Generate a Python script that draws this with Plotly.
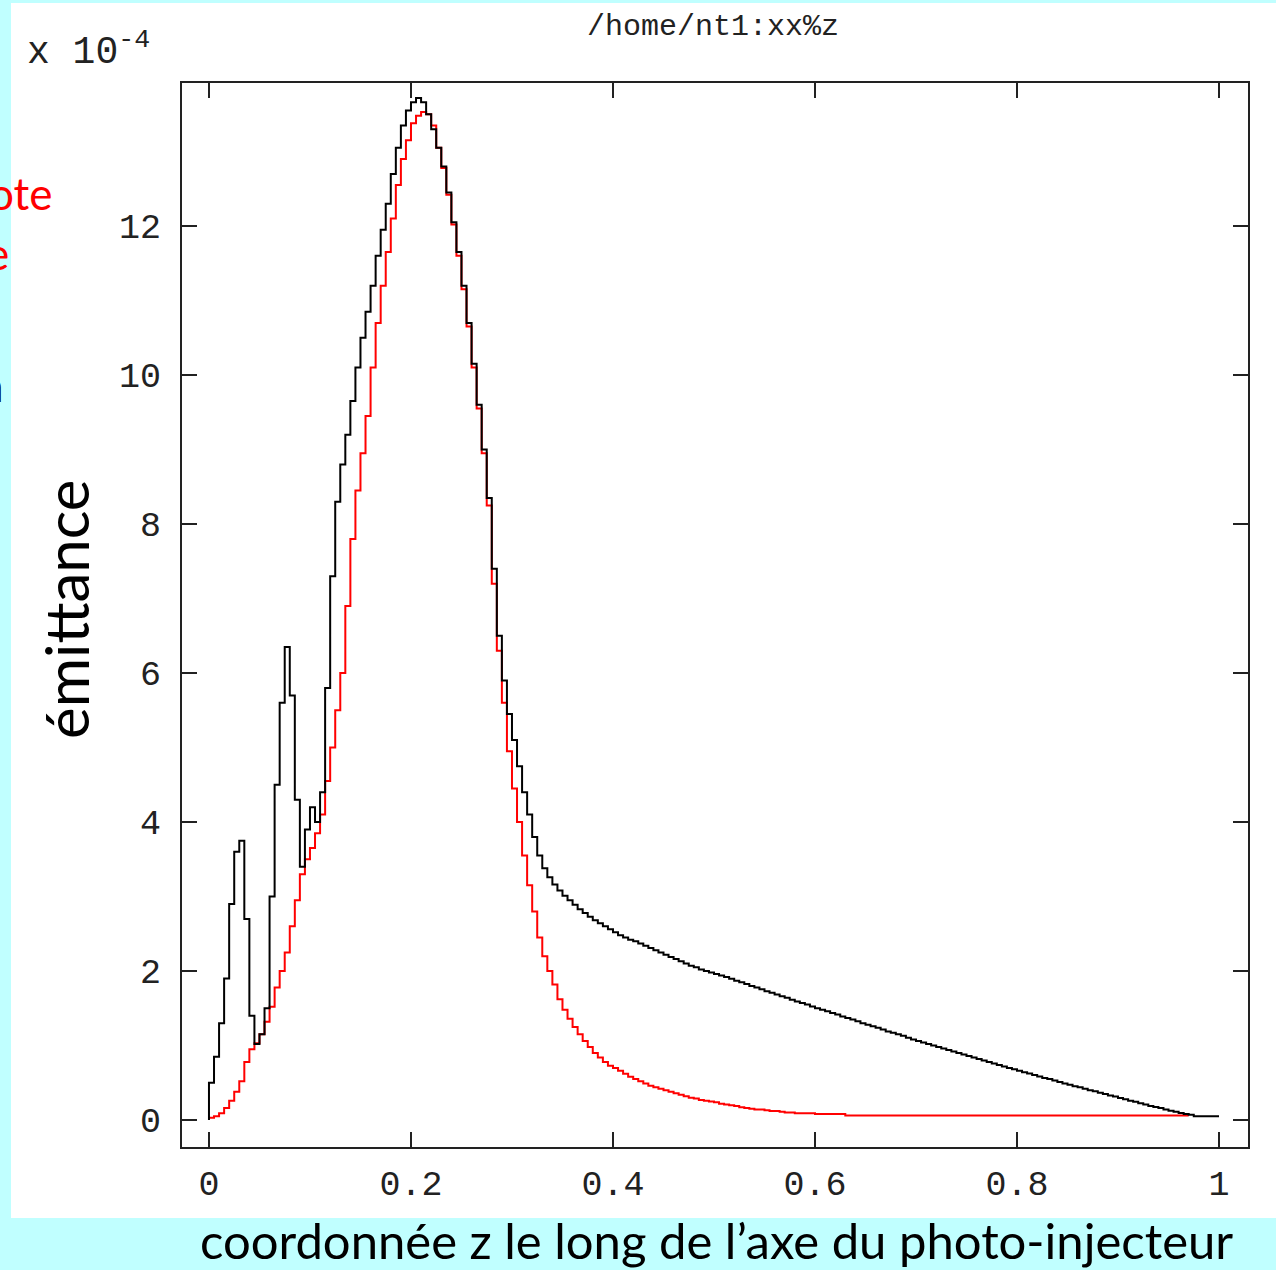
import numpy as np
import plotly.graph_objects as go

# histogram bin width along z (normalised)
bin_width = 0.005

# black curve: one value per bin, z from 0 to 1 (units of 1e-4)
emit_black = [
    0.5, 0.85, 1.3, 1.9, 2.9, 3.6, 3.75, 2.7, 1.4, 1.02,
    1.15, 1.5, 3.0, 4.5, 5.6, 6.35, 5.7, 4.3, 3.4, 3.9,
    4.2, 4.0, 4.4, 5.8, 7.3, 8.3, 8.8, 9.2, 9.65, 10.1,
    10.5, 10.85, 11.2, 11.6, 11.95, 12.3, 12.7, 13.05, 13.35, 13.55,
    13.66, 13.72, 13.66, 13.5, 13.3, 13.05, 12.8, 12.45, 12.05, 11.65,
    11.2, 10.7, 10.15, 9.6, 9.0, 8.35, 7.4, 6.5, 5.9, 5.45,
    5.1, 4.75, 4.4, 4.1, 3.8, 3.55, 3.38, 3.26, 3.16, 3.08,
    3.01, 2.95, 2.89, 2.83, 2.78, 2.73, 2.68, 2.64, 2.60, 2.56,
    2.52, 2.48, 2.45, 2.42, 2.40, 2.37, 2.34, 2.31, 2.28, 2.25,
    2.22, 2.19, 2.16, 2.13, 2.10, 2.07, 2.05, 2.02, 2.0, 1.98,
    1.96, 1.94, 1.92, 1.895, 1.87, 1.85, 1.825, 1.80, 1.78, 1.755,
    1.73, 1.71, 1.685, 1.66, 1.64, 1.615, 1.59, 1.57, 1.55, 1.525,
    1.50, 1.48, 1.46, 1.435, 1.415, 1.39, 1.37, 1.35, 1.325, 1.30,
    1.28, 1.26, 1.24, 1.215, 1.19, 1.17, 1.15, 1.13, 1.105, 1.08,
    1.06, 1.04, 1.02, 1.0, 0.98, 0.96, 0.94, 0.92, 0.90, 0.88,
    0.86, 0.84, 0.82, 0.80, 0.78, 0.76, 0.74, 0.72, 0.70, 0.68,
    0.66, 0.64, 0.625, 0.605, 0.585, 0.565, 0.55, 0.53, 0.51, 0.49,
    0.475, 0.455, 0.44, 0.42, 0.40, 0.385, 0.365, 0.35, 0.33, 0.315,
    0.295, 0.28, 0.26, 0.245, 0.225, 0.21, 0.19, 0.175, 0.16, 0.14,
    0.125, 0.11, 0.095, 0.08, 0.07, 0.05, 0.05, 0.05, 0.05, 0.05,
]

# red curve: one value per bin, stops near z = 0.97
emit_red = [
    0.03, 0.05, 0.09, 0.16, 0.26, 0.38, 0.52, 0.78, 0.95, 1.03,
    1.15, 1.32, 1.52, 1.78, 2.0, 2.25, 2.6, 2.95, 3.3, 3.5,
    3.65, 3.85, 4.1, 4.55, 5.0, 5.5, 6.0, 6.9, 7.8, 8.45,
    8.95, 9.45, 10.1, 10.7, 11.2, 11.65, 12.1, 12.55, 12.9, 13.15,
    13.38, 13.48, 13.53, 13.5, 13.35, 13.05, 12.78, 12.42, 12.02, 11.6,
    11.15, 10.65, 10.1, 9.55, 8.95, 8.25, 7.2, 6.3, 5.6, 4.95,
    4.45, 4.0, 3.55, 3.15, 2.8, 2.45, 2.2, 2.0, 1.82, 1.62,
    1.48, 1.36, 1.25, 1.15, 1.06, 0.98, 0.9, 0.84, 0.78, 0.73,
    0.70, 0.66, 0.62, 0.58, 0.55, 0.52, 0.49, 0.46, 0.44, 0.42,
    0.40, 0.38, 0.36, 0.34, 0.32, 0.30, 0.29, 0.27, 0.26, 0.25,
    0.24, 0.22, 0.21, 0.20, 0.19, 0.17, 0.16, 0.15, 0.14, 0.14,
    0.13, 0.12, 0.12, 0.11, 0.10, 0.10, 0.09, 0.09, 0.09, 0.09,
    0.08, 0.08, 0.08, 0.08, 0.08, 0.08, 0.06, 0.06, 0.06, 0.06,
    0.06, 0.06, 0.06, 0.06, 0.06, 0.06, 0.06, 0.06, 0.06, 0.06,
    0.06, 0.06, 0.06, 0.06, 0.06, 0.06, 0.06, 0.06, 0.06, 0.06,
    0.06, 0.06, 0.06, 0.06, 0.06, 0.06, 0.06, 0.06, 0.06, 0.06,
    0.06, 0.06, 0.06, 0.06, 0.06, 0.06, 0.06, 0.06, 0.06, 0.06,
    0.06, 0.06, 0.06, 0.06, 0.06, 0.06, 0.06, 0.06, 0.06, 0.06,
    0.06, 0.06, 0.06, 0.06, 0.06, 0.06, 0.06, 0.06, 0.06, 0.06,
    0.06, 0.06, 0.06, 0.06,
]

x_ticks = [0, 0.2, 0.4, 0.6, 0.8, 1]
y_ticks = [0, 2, 4, 6, 8, 10, 12]

W, H = 1276, 1270
L, R, T, B = 182, 28, 83, 123
pw, ph = W - L - R, H - T - B


def px(x):
    return (x - L) / pw


def py(y):
    return (H - B - y) / ph


def steps(vals, start_zero=False):
    edges = list(np.arange(len(vals) + 1) * bin_width)
    ys = list(vals) + [vals[-1]]
    if start_zero:
        edges = [0.0] + edges
        ys = [0.0] + ys
    return edges, ys


mono = "Liberation Mono"
sans = "Lato"

fig = go.Figure()
zr, er = steps(emit_red)
fig.add_trace(go.Scatter(x=zr, y=er, mode="lines", line_shape="hv",
                         line=dict(color="#ff0000", width=2), showlegend=False))
zb, eb = steps(emit_black, start_zero=True)
fig.add_trace(go.Scatter(x=zb, y=eb, mode="lines", line_shape="hv",
                         line=dict(color="#000000", width=2), showlegend=False))

fig.update_layout(
    width=W, height=H,
    margin=dict(l=L, r=R, t=T, b=B),
    paper_bgcolor="#c0ffff",
    plot_bgcolor="white",
    shapes=[dict(type="rect", xref="paper", yref="paper", layer="below",
                 x0=px(11), x1=px(W + 5), y0=py(1218), y1=py(3),
                 fillcolor="white", line=dict(width=0))],
)

axis_common = dict(showgrid=False, zeroline=False, showline=True, mirror="ticks",
                   linecolor="#222", linewidth=2, ticks="inside", ticklen=15,
                   tickwidth=2, tickcolor="#222",
                   tickfont=dict(family=mono, size=35, color="#222"))
fig.update_xaxes(range=[-0.0267, 1.0287], tickvals=x_ticks,
                 ticklabelstandoff=4, **axis_common)
fig.update_yaxes(range=[-0.362, 13.92], tickvals=y_ticks,
                 ticklabelstandoff=12, **axis_common)

ann = [
    dict(text="/home/nt1:xx%z", x=px(713), y=py(27),
         font=dict(family=mono, size=30, color="#222")),
    dict(text="x 10<sup>-4</sup>", x=px(25), y=py(50), xanchor="left",
         font=dict(family=mono, size=38, color="#222")),
    dict(text="émittance", x=px(66), y=py(609), textangle=-90,
         font=dict(family=sans, size=60, color="black")),
    dict(text="coordonnée z le long de l’axe du photo-injecteur",
         x=px(716), y=py(1240),
         font=dict(family=sans, size=49, color="black")),
    dict(text="ote", x=px(54), y=py(193), xanchor="right",
         font=dict(family=sans, size=44, color="#ff0000")),
    dict(text="e", x=px(11), y=py(253), xanchor="right",
         font=dict(family=sans, size=44, color="#ff0000")),
    dict(text="n", x=px(6), y=py(385), xanchor="right",
         font=dict(family=sans, size=44, color="black")),
]
for a in ann:
    a.setdefault("xanchor", "center")
    fig.add_annotation(xref="paper", yref="paper", showarrow=False,
                       yanchor="middle", **a)

# drop the default page margin so the figure sits at the window corner
page_fix = ("document.body.style.margin='0';"
            "document.body.style.overflow='hidden';"
            "document.body.style.background='#c0ffff';")
fig.write_html("out.html", post_script=page_fix,
               config={"displayModeBar": False})
